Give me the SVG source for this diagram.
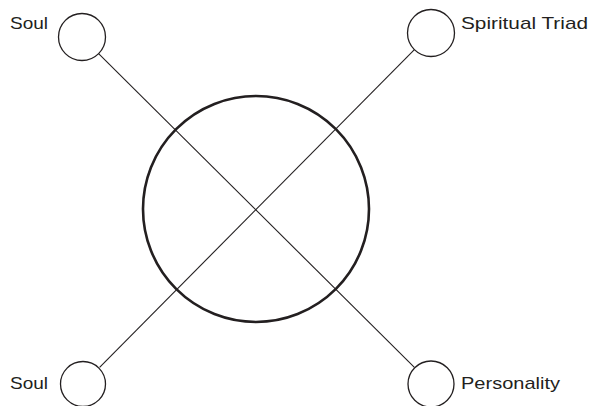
<svg xmlns="http://www.w3.org/2000/svg" width="595" height="406" viewBox="0 0 595 406">
<style>
.small{fill:#fff;stroke:#231f20;stroke-width:1.3}
.big{fill:none;stroke:#231f20;stroke-width:2.6}
.conn{stroke:#231f20;stroke-width:1.1;fill:none}
text{font-family:"Liberation Sans",Arial,sans-serif;font-size:17px;fill:#231f20}
</style>
<rect width="595" height="406" fill="#fff"/>
<g id="connectors">
<line class="conn" x1="98.6" y1="53.6" x2="414.4" y2="367.4"/>
<line class="conn" x1="99.6" y1="367.4" x2="414.4" y2="49.6"/>
</g>
<g id="center"><circle class="big" cx="256" cy="209" r="113"/></g>
<g id="soul-top"><circle class="small" cx="82" cy="37" r="23.5"/><text x="10" y="29" textLength="38" lengthAdjust="spacingAndGlyphs">Soul</text></g>
<g id="spiritual-triad"><circle class="small" cx="431" cy="33" r="23.5"/><text x="461" y="29" textLength="127" lengthAdjust="spacingAndGlyphs">Spiritual Triad</text></g>
<g id="soul-bottom"><circle class="small" cx="83" cy="384" r="22.5"/><text x="10" y="389" textLength="38" lengthAdjust="spacingAndGlyphs">Soul</text></g>
<g id="personality"><circle class="small" cx="431" cy="384" r="23"/><text x="461" y="389" textLength="99" lengthAdjust="spacingAndGlyphs">Personality</text></g>
</svg>
